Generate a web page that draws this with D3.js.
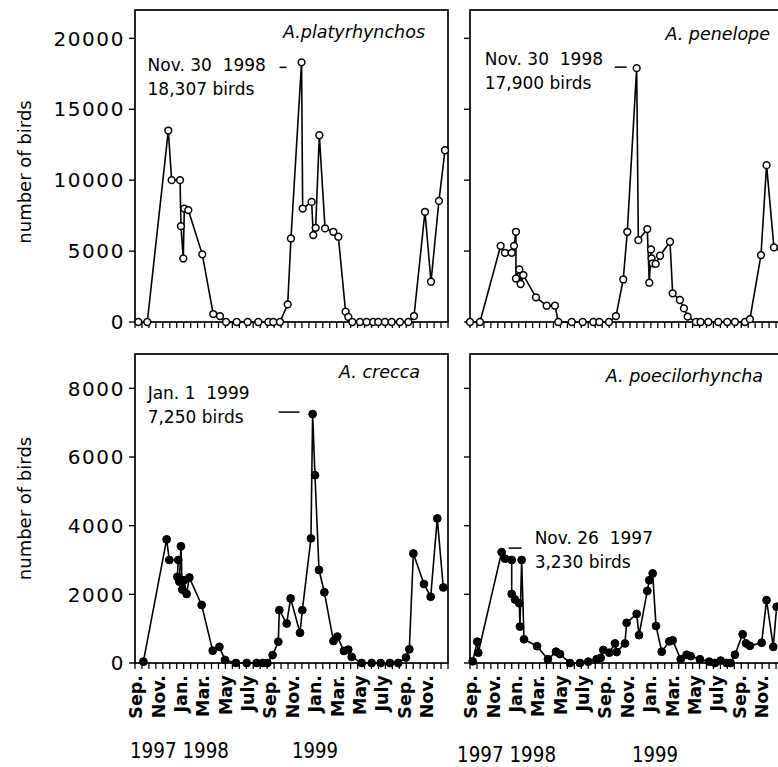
<!DOCTYPE html>
<html><head><meta charset="utf-8">
<script src="https://cdn.jsdelivr.net/npm/d3@7/dist/d3.min.js"></script>
<style>
html,body{margin:0;padding:0;background:#fff;}
svg{display:block;}
text{font-family:"DejaVu Sans",sans-serif;fill:#000;white-space:pre;}
</style></head>
<body>
<svg id="chart" width="778" height="767"></svg>
<script>
// ---- data (x = months since 1 Sep 1997) ----
const monthLabels = ["Sep.","Nov.","Jan.","Mar.","May","July","Sep.","Nov.","Jan.","Mar.","May","July","Sep.","Nov."];
const monthLabelPos = [0,2,4,6,8,10,12,14,16,18,20,22,24,26];
const yearLabels = ["1997 1998","1999"];
const topTicks = [0,5000,10000,15000,20000];
const bottomTicks = [0,2000,4000,6000,8000];

const platM = [0.3,1.1,2.98,3.28,4.03,4.11,4.32,4.41,4.77,6.02,7.0,7.6,8.14,9.1,10.08,11.03,11.93,12.37,12.97,13.66,13.95,14.9,15.0,15.8,15.95,16.16,16.49,17.0,17.74,18.19,18.84,19.08,19.44,20.13,20.72,21.3,21.76,22.36,22.96,23.7,24.45,24.96,25.94,26.48,27.19,27.73];
const platV = [0,0,13500,10000,10000,6760,4480,8000,7890,4770,560,420,0,0,0,0,0,0,0,1240,5890,18307,8000,8470,6130,6640,13170,6600,6360,6010,730,360,0,0,0,0,0,0,0,0,0,420,7770,2840,8540,12110];

const penM = [0,0.89,2.74,3.13,3.73,3.94,4.11,4.11,4.41,4.53,4.77,5.9,6.86,7.6,7.9,9.1,10.08,11.03,11.57,12.43,13.06,13.71,14.07,14.91,15.06,15.86,16.04,16.19,16.25,16.34,16.61,17.0,17.89,18.13,18.78,19.14,19.47,20.21,20.63,21.32,22.21,23.01,23.7,24.6,25.04,26.03,26.53,27.19,27.8];
const penV = [0,0,5370,4880,4880,5370,6360,3070,3710,2680,3310,1740,1150,1150,0,0,0,0,0,0,420,3000,6360,17900,5770,6550,2770,5120,4490,4140,4100,4670,5660,2020,1550,960,380,0,0,0,0,0,0,0,200,4720,11060,5260,5200];

const creM = [0.75,2.83,3.07,3.87,3.79,3.97,4.11,4.23,4.38,4.62,4.86,5.96,6.95,7.55,8.05,9.03,9.99,10.88,11.42,11.84,12.31,12.82,12.91,13.57,13.92,14.76,14.97,15.74,15.89,16.1,16.46,16.94,17.75,18.1,18.69,19.08,19.38,20.28,21.17,21.98,22.81,23.55,24.24,24.54,24.9,25.85,26.45,27.04,27.58];
const creV = [40,3600,3000,3000,2510,2370,3400,2140,2410,2010,2490,1690,360,470,90,0,0,0,0,0,230,620,1540,1150,1880,880,1540,3630,7250,5470,2710,2060,640,770,350,390,180,0,0,0,0,0,160,400,3190,2300,1930,4210,2200];

const poeM = [0.24,0.65,0.74,2.83,3.13,3.73,3.73,4.02,4.41,4.47,4.62,4.83,6.0,6.97,7.69,8.05,8.94,9.84,10.58,11.33,11.69,11.93,12.46,12.97,13.12,13.86,14.01,14.91,15.12,15.86,16.04,16.34,16.64,17.15,17.83,18.13,18.85,19.38,19.74,20.57,21.4,21.91,22.42,22.96,23.32,23.7,24.39,24.69,25.04,26.09,26.53,27.13,27.43];
const poeV = [50,620,300,3230,3040,3000,2010,1850,1740,1060,3000,690,490,110,330,260,0,0,40,110,150,380,300,570,320,570,1170,1430,810,2100,2410,2610,1080,330,630,660,110,240,200,110,40,0,70,0,0,240,840,570,500,590,1830,470,1640];

const panels = [
  {m:platM, v:platV, left:135, top:10, bottom:322, ymax:22000, ticks:topTicks, open:true,
   species:"A.platyrhynchos", spX:290, spY:38,
   ann:["Nov. 30  1998","18,307 birds"], annIdx:21, annDx:-154, annDy:9, dash:[-22,-15,5]},
  {m:penM, v:penV, left:470, top:10, bottom:322, ymax:22000, ticks:topTicks, open:true,
   species:"A. penelope", spX:300, spY:40,
   ann:["Nov. 30  1998","17,900 birds"], annIdx:23, annDx:-152, annDy:-3, dash:[-22,-10,-1]},
  {m:creM, v:creV, left:135, top:354, bottom:663, ymax:9000, ticks:bottomTicks, open:false,
   species:"A. crecca", spX:285, spY:378, yearX:[-0.45,14.05], yearY:758,
   ann:["Jan. 1  1999","7,250 birds"], annIdx:28, annDx:-165, annDy:-15, dash:[-34,-13,-2]},
  {m:poeM, v:poeV, left:470, top:354, bottom:663, ymax:9000, ticks:bottomTicks, open:false,
   species:"A. poecilorhyncha", spX:293, spY:382, yearX:[-1.16,14.5], yearY:762,
   ann:["Nov. 26  1997","3,230 birds"], annIdx:3, annDx:33, annDy:-8, dash:[7,20,-4]}
];

const W = 313;
const svg = d3.select("#chart");

panels.forEach((p,i) => {
  const x = d3.scaleLinear().domain([0,28]).range([p.left, p.left+W]);
  const y = d3.scaleLinear().domain([0,p.ymax]).range([p.bottom, p.top]);
  const g = svg.append("g");

  // frame
  g.append("rect").attr("x",p.left).attr("y",p.top).attr("width",W).attr("height",p.bottom-p.top)
    .attr("fill","none").attr("stroke","#000").attr("stroke-width",1.7);

  // y axis ticks + labels
  p.ticks.forEach(t => {
    g.append("line").attr("x1",p.left-6).attr("x2",p.left).attr("y1",y(t)).attr("y2",y(t))
      .attr("stroke","#000").attr("stroke-width",1.4);
  });
  if (p.left < 200) {
    p.ticks.forEach(t => {
      g.append("text").attr("x",p.left-10).attr("y",y(t)).attr("dy","0.36em")
        .attr("text-anchor","end").attr("font-size",20).attr("letter-spacing","1.6px")
        .text(t);
    });
    g.append("text").attr("transform",`translate(${31},${(p.top+p.bottom)/2 + (i<2?6:0)}) rotate(-90)`)
      .attr("text-anchor","middle").attr("font-size",18).text("number of birds");
  }

  // x minor ticks
  const nT = 45;
  d3.range(nT+1).forEach(k => {
    const xx = p.left + k*W/nT;
    g.append("line").attr("x1",xx).attr("x2",xx).attr("y1",p.bottom).attr("y2",p.bottom+6)
      .attr("stroke","#000").attr("stroke-width",1.3);
  });

  // month labels + years for bottom panels
  if (p.top > 100) {
    monthLabelPos.forEach((mp,k) => {
      g.append("text").attr("transform",`translate(${x(mp)+1},${p.bottom+12}) rotate(-90)`)
        .attr("dy","0.36em").attr("text-anchor","end").attr("font-size",17.5).attr("font-weight","bold")
        .text(monthLabels[k]);
    });
    g.append("text").attr("x",x(p.yearX[0])).attr("y",p.yearY).attr("font-size",21)
      .attr("textLength",99).attr("lengthAdjust","spacingAndGlyphs").text(yearLabels[0]);
    g.append("text").attr("x",x(p.yearX[1])).attr("y",p.yearY).attr("font-size",21)
      .attr("textLength",46).attr("lengthAdjust","spacingAndGlyphs").text(yearLabels[1]);
  }

  // species label
  g.append("text").attr("x",p.left+p.spX).attr("y",p.spY).attr("text-anchor","end")
    .attr("font-size",17.5).attr("font-style","italic").text(p.species);

  // data line
  const pts = p.m.map((mm,k)=>[x(mm), y(p.v[k])]);
  g.append("path").attr("d", d3.line()(pts)).attr("fill","none").attr("stroke","#000").attr("stroke-width",1.6);
  g.selectAll("circle.pt").data(pts).enter().append("circle")
    .attr("cx",d=>d[0]).attr("cy",d=>d[1]).attr("r",p.open?3.4:3.9)
    .attr("fill",p.open?"#fff":"#000").attr("stroke","#000").attr("stroke-width",p.open?1.5:1);

  // annotation
  const pk = pts[p.annIdx];
  const ax = pk[0]+p.annDx, ay = pk[1]+p.annDy;
  g.append("text").attr("x",ax).attr("y",ay).attr("font-size",17).text(p.ann[0]);
  g.append("text").attr("x",ax).attr("y",ay+24).attr("font-size",17).text(p.ann[1]);
  g.append("line").attr("x1",pk[0]+p.dash[0]).attr("x2",pk[0]+p.dash[1])
    .attr("y1",pk[1]+p.dash[2]).attr("y2",pk[1]+p.dash[2]).attr("stroke","#000").attr("stroke-width",1.5);
});
</script>
</body></html>
